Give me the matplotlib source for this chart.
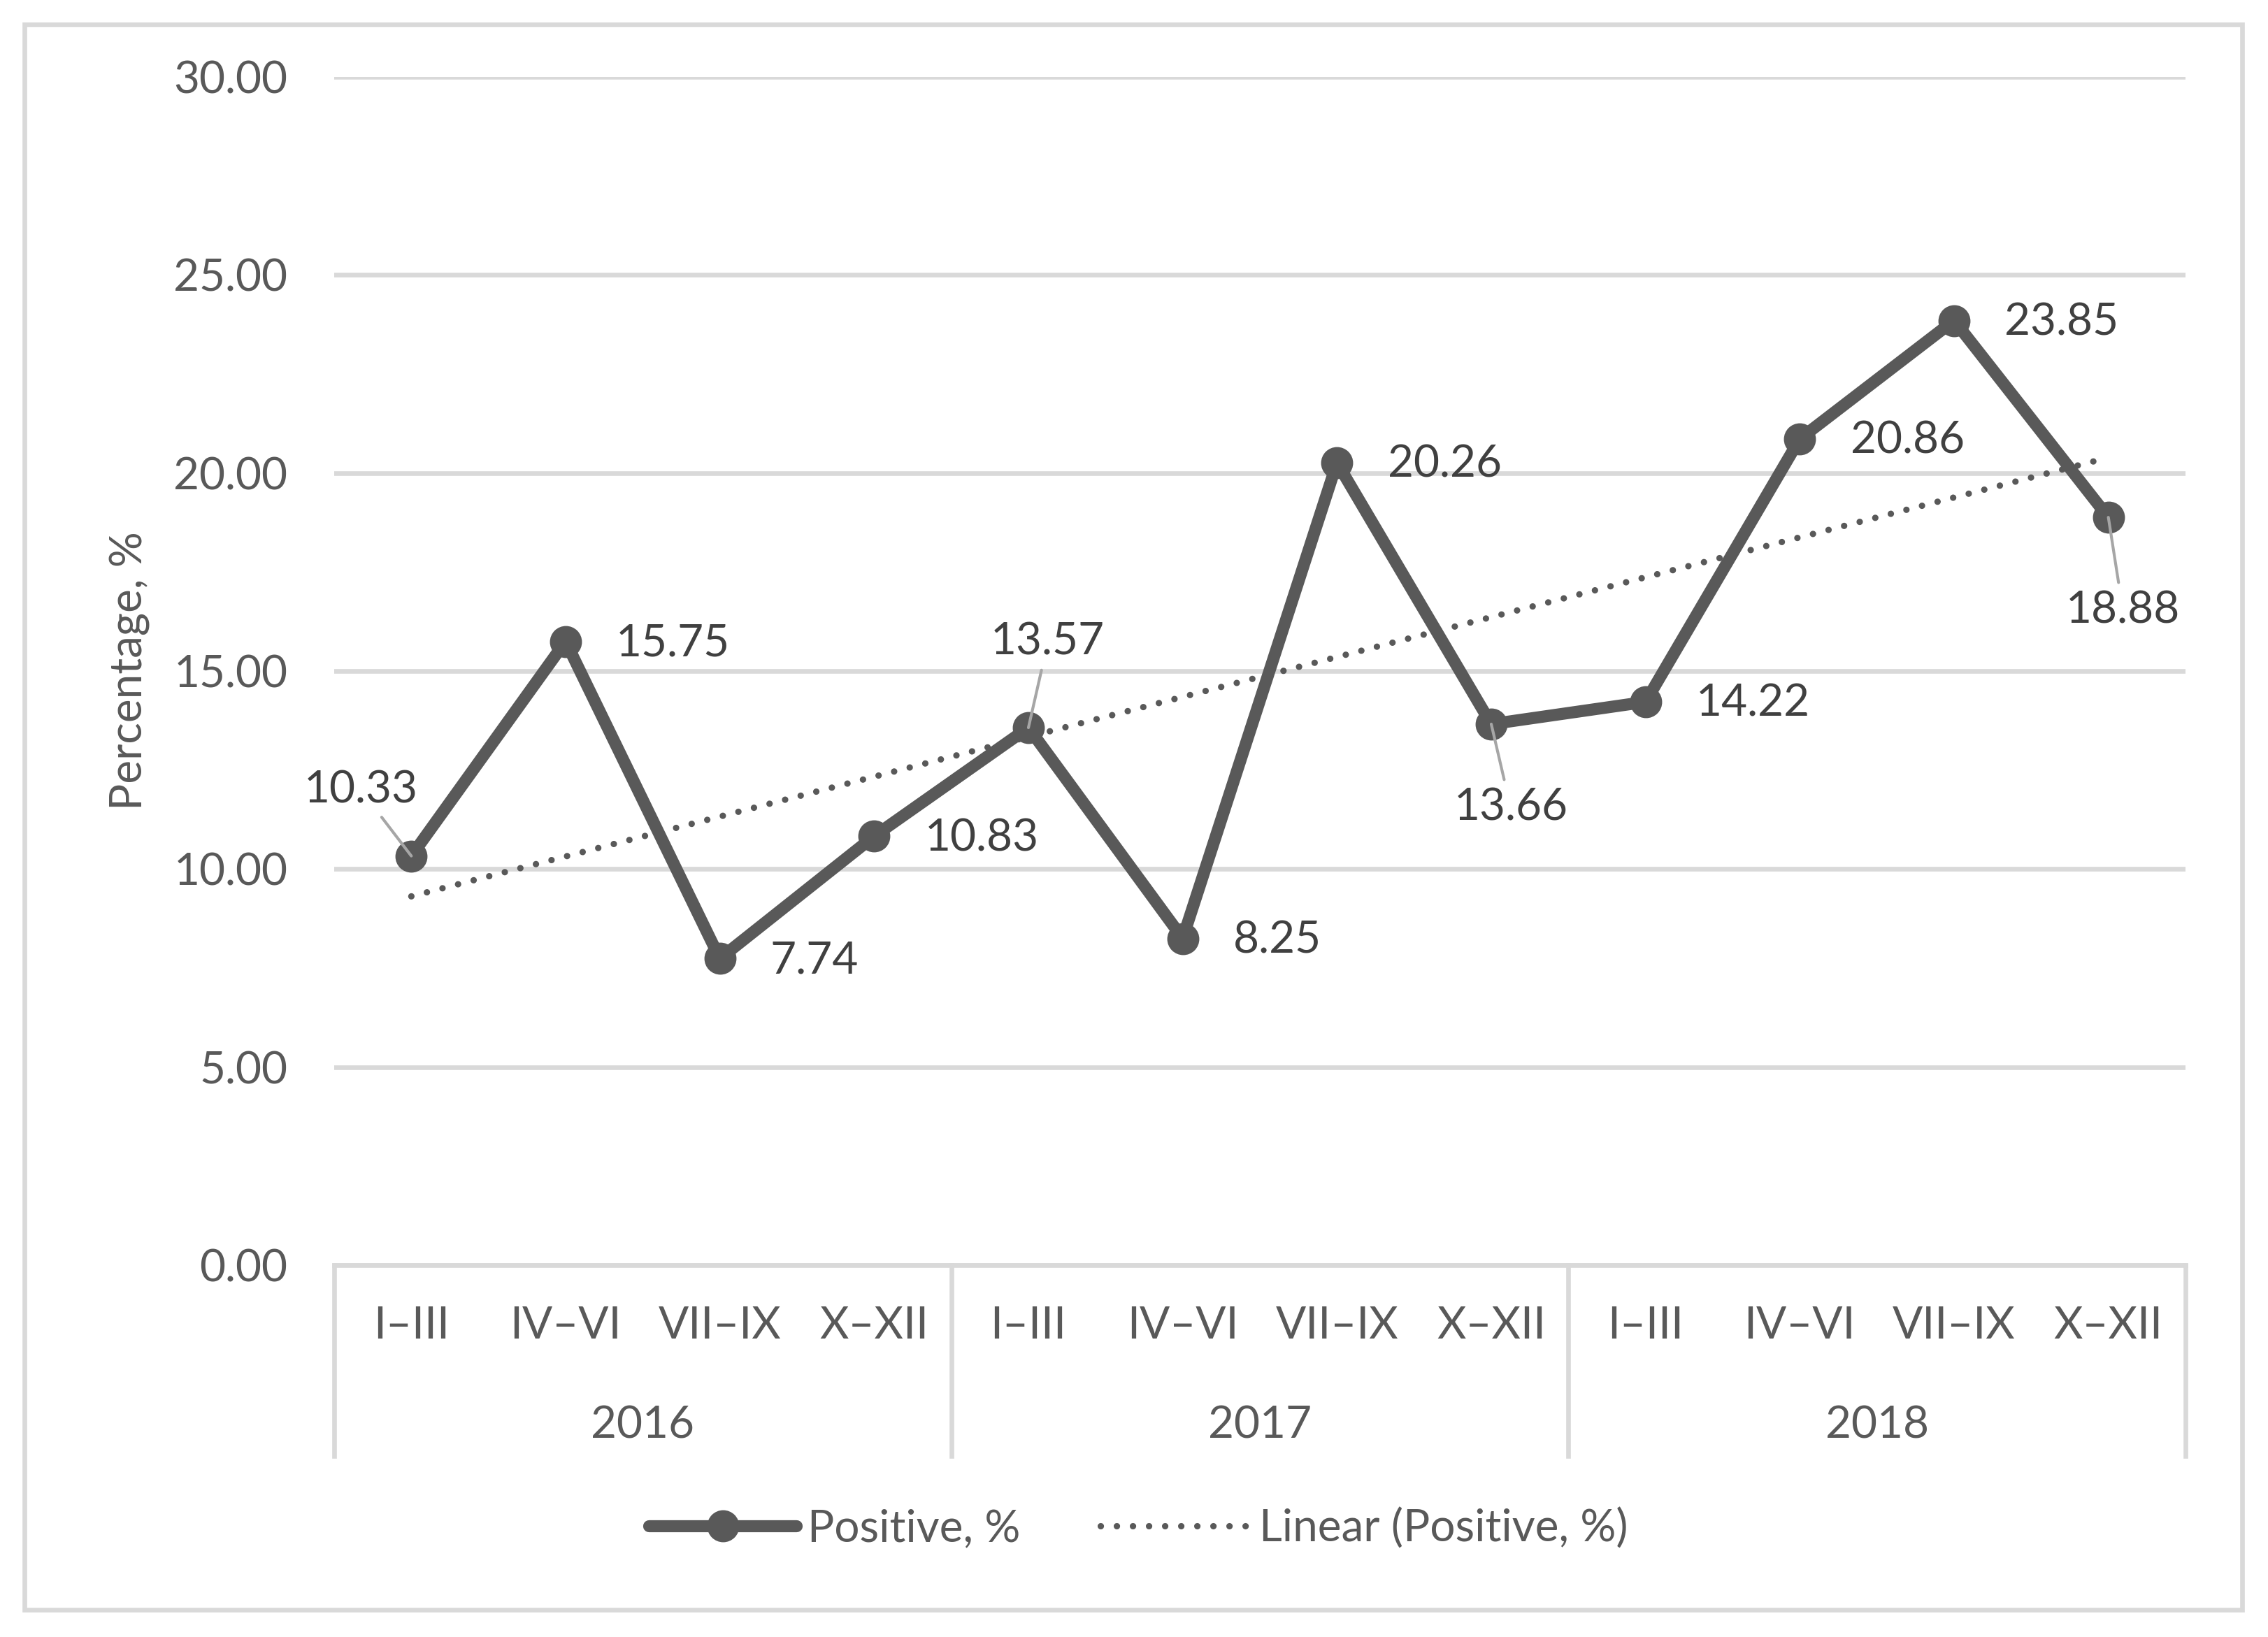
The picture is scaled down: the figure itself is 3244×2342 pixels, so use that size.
import numpy as np
import matplotlib
matplotlib.use("Agg")
import matplotlib.pyplot as plt
from matplotlib.patches import Rectangle

plt.rcParams['font.family'] = ['Lato', 'DejaVu Sans']

# data
quarters = ["I–III", "IV–VI", "VII–IX", "X–XII"] * 3
years = ["2016", "2017", "2018"]
positive = [10.33, 15.75, 7.74, 10.83, 13.57, 8.25, 20.26, 13.66, 14.22, 20.86, 23.85, 18.88]
yticks = [0, 5, 10, 15, 20, 25, 30]

W, H = 3244, 2342
DPI = 200
fig = plt.figure(figsize=(W / DPI, H / DPI), dpi=DPI)
fig.patch.set_facecolor("white")

# outer chart border
fig.add_artist(Rectangle((35 / W, 1 - 2303 / H), (3207 - 35) / W, (2303 - 35) / H,
                         transform=fig.transFigure, fill=False, ec="#d9d9d9", lw=2.4))

ax = fig.add_axes([478 / W, 1 - 1810 / H, (3126 - 478) / W, (1810 - 110) / H])
x = np.arange(len(positive))

fs = 23
grey = "#595959"
lab = "#404040"
gridc = "#d9d9d9"

ax.set_xlim(-0.5, len(positive) - 0.5)
ax.set_ylim(0, 30)
ax.set_yticks(yticks)
ax.set_yticklabels(["%.2f" % v for v in yticks], fontsize=fs, color=grey)
ax.yaxis.grid(True, color=gridc, lw=2.4)
ax.set_axisbelow(True)
for s in ["top", "right", "left"]:
    ax.spines[s].set_visible(False)
ax.spines["bottom"].set_color(gridc)
ax.spines["bottom"].set_linewidth(2.4)
ax.tick_params(axis="y", length=0, pad=24)
ax.set_xticks(x)
ax.set_xticklabels(quarters, fontsize=fs, color=grey)
ax.tick_params(axis="x", length=0, pad=21)

# series line + markers
ax.plot(x, positive, color=grey, lw=6.2, marker="o", ms=15.5, solid_capstyle="round",
        label="Positive, %", zorder=4)

# linear trendline
k, b = np.polyfit(x, positive, 1)
ax.plot(x, k * x + b, color=grey, lw=3.3, linestyle=(0, (0.01, 2.5)),
        dash_capstyle="round", label="Linear (Positive, %)", zorder=3)

# data labels
leader = {0: (-26, 34), 4: (10, 44), 7: (10, -43), 11: (7.5, -48)}
for i, v in enumerate(positive):
    if i in leader:
        ax.annotate("%.2f" % v, (x[i], v), xytext=leader[i], textcoords="offset points",
                    ha="center", va="center", fontsize=fs, color=lab, zorder=5,
                    arrowprops=dict(arrowstyle="-", color="#a6a6a6", lw=1.5,
                                    shrinkA=2, shrinkB=0))
    else:
        ax.annotate("%.2f" % v, (x[i], v), xytext=(26, -1), textcoords="offset points",
                    ha="left", va="center", fontsize=fs, color=lab, zorder=5)

# category axis: year groups and separators
tr = ax.get_xaxis_transform()
sep_depth = 273 / 1700
for j, yr in enumerate(years):
    ax.text(4 * j + 1.5, -230 / 1700, yr, transform=tr, ha="center", va="center",
            fontsize=fs, color=grey)
for xs in [-0.5, 3.5, 7.5, 11.5]:
    ax.plot([xs, xs], [0, -sep_depth], transform=tr, color=gridc, lw=2.4, clip_on=False)

ax.text(-292 / 2648, 0.5, "Percentage, %", transform=ax.transAxes, rotation=90,
        ha="center", va="center", fontsize=fs, color=grey)

fig.legend(loc="center", bbox_to_anchor=(0.502, 1 - 2187 / H), ncol=2, frameon=False,
           fontsize=fs, labelcolor=grey, handlelength=3.3, handletextpad=0.25,
           columnspacing=1.8, numpoints=1)

fig.savefig("out.png", dpi=DPI, facecolor="white")
